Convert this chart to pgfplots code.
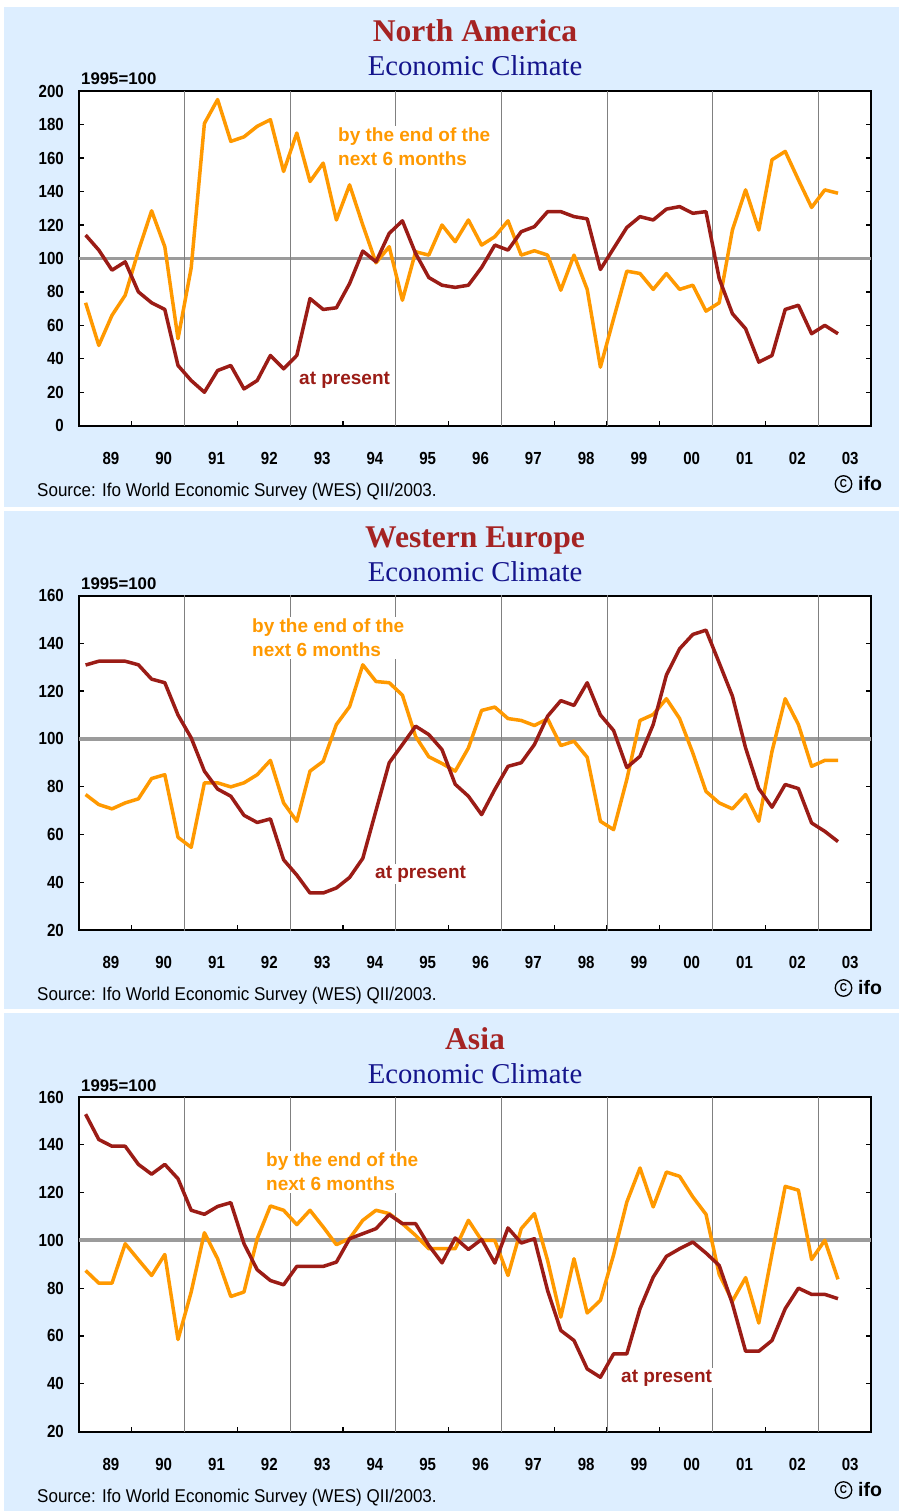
\documentclass[border=0pt]{standalone}
\usepackage{pgfplots}
\pgfplotsset{compat=1.18}
\usepackage{pgfplotstable}
\usepackage{fontspec}
\setmainfont{Liberation Serif}
\setsansfont{Liberation Sans}
\newfontfamily\narrowsans[FakeStretch=0.86]{Liberation Sans}
\newfontfamily\srcsans[FakeStretch=0.92]{Liberation Sans}
\definecolor{bgblue}{RGB}{221,238,255}
\definecolor{curred}{RGB}{155,28,22}
\definecolor{exporange}{RGB}{255,153,0}
\definecolor{titlered}{RGB}{165,35,35}
\definecolor{titleblue}{RGB}{20,20,140}
\definecolor{refgray}{RGB}{155,155,155}
\definecolor{gridgray}{RGB}{128,128,128}

\pgfplotstableread{
i cur exp
0 114 73.5
1 105 48
2 93 66
3 98 78
4 80 104.6
5 73.5 128.5
6 69.5 107
7 36 52
8 27 94.4
9 20 180.7
10 33 195
11 36 170
12 22 172.7
13 27 179
14 42 183
15 34 152
16 42 175
17 76 146
18 69.5 157
19 70.5 123
20 85 144
21 104.4 120
22 98 97.4
23 115 107
24 122.5 75
25 103 104
26 88.6 102
27 84 120
28 82.7 110
29 84 123
30 94.6 108
31 108 113
32 105 122.5
33 116 102
34 119 104.6
35 128 102
36 128 81
37 125 102
38 123.7 81.5
39 93.4 35
40 106 64
41 118.5 92.4
42 125 91
43 123 81.5
44 129.5 91
45 131 81.5
46 127 84
47 128 68.5
48 88 73.5
49 67 117
50 58 141
51 38 117
52 42 159
53 69.5 164
54 72 147
55 55 130.5
56 60 141
57 55 139
}\tableNA

\pgfplotstableread{
i cur exp
0 130.9 76.7
1 132.5 72.5
2 132.5 70.7
3 132.5 73.2
4 131 74.9
5 125 83.4
6 123.5 85
7 110 58.8
8 100.4 54.6
9 86.5 81.6
10 79 81.6
11 76 79.9
12 68 81.6
13 65 85
14 66.5 91
15 49.4 73.2
16 43 65.5
17 35.5 86.5
18 35.5 90.6
19 37.6 106
20 42 113.5
21 50 131
22 70 124
23 90 123.5
24 97.6 118.3
25 105.3 101
26 101.8 92.5
27 95.5 89.7
28 81 86.5
29 76 96.2
30 68.3 111.9
31 78.8 113.3
32 88.5 108.5
33 90 107.7
34 97.6 105.6
35 109.5 108.4
36 116 97.2
37 114 99
38 123.5 92.3
39 110 65.5
40 103.5 62
41 88 83
42 92.7 107.7
43 106 110.2
44 126.7 116.8
45 137.7 108.5
46 143.7 94.1
47 145.5 78
48 131.8 73.2
49 117.9 70.7
50 96.2 76.7
51 79.2 65.5
52 71.4 94.8
53 80.9 116.8
54 79.2 106
55 64.8 88.5
56 61.3 91
57 57 91
}\tableWE

\pgfplotstableread{
i cur exp
0 152.8 87.4
1 142.2 82.1
2 139.4 82.1
3 139.4 98.6
4 131.8 91.9
5 127.7 85.3
6 131.8 94.1
7 125.8 58.5
8 112.6 78.4
9 110.9 103.2
10 114.2 92.3
11 115.8 76.5
12 98.6 78.4
13 87.7 100.7
14 83.2 114.4
15 81.4 112.6
16 89.1 106.6
17 89.1 112.6
18 89.1 105.6
19 90.9 98.2
20 100.7 100.8
21 102.8 108.4
22 104.9 112.6
23 110.8 111.2
24 107 107
25 107 102.1
26 97.9 96.5
27 90.6 96.5
28 101 96.5
29 96.2 108.4
30 100.4 100
31 90.5 100
32 105.2 85.3
33 98.9 104.9
34 100.7 111.2
35 79 91.6
36 62.3 67.9
37 58.1 92.3
38 46.2 69.6
39 42.7 74.9
40 52.5 94
41 52.5 116
42 71.4 130.3
43 84.6 114
44 93.3 128.6
45 96.5 126.8
46 99.3 118.2
47 94.7 110.9
48 89.5 85.8
49 73.5 74.6
50 53.6 84.4
51 53.6 65.4
52 58.1 94.4
53 71.4 122.6
54 80 121
55 77.4 92
56 77.4 100
57 75.6 83.7
}\tableAS

\pgfplotsset{
  wes/.style={
    scale only axis, width=792pt, height=334.5pt,
    xmin=-0.5, xmax=59.5,
    axis background/.style={fill=white},
    axis line style={black, line width=2pt},
    tick align=inside,
    xtick pos=bottom, ytick pos=both, yticklabel pos=left,
    xtick={1.92,5.92,9.92,13.92,17.92,21.92,25.92,29.92,33.92,37.92,41.92,45.92,49.92,53.92,57.92},
    xticklabels={89,90,91,92,93,94,95,96,97,98,99,00,01,02,03},
    major x tick style={draw=none},
    minor xtick={3.5,7.5,11.5,15.5,19.5,23.5,27.5,31.5,35.5,39.5,43.5,47.5,51.5,55.5},
    minor x tick style={black, line width=1.2pt},
    minor tick length=5pt,
    major tick length=5pt,
    y tick style={black, line width=1.2pt},
    /pgf/number format/assume math mode=true,
    tick label style={font=\narrowsans\bfseries\fontsize{17.5}{20}\selectfont},
    x tick label style={anchor=base, yshift=-38.5pt, inner sep=0pt},
    y tick label style={anchor=east, inner sep=0pt, xshift=-15pt},
    clip=true,
  },
  curline/.style={curred, line width=3.5pt, line join=round},
  expline/.style={exporange, line width=3.5pt, line join=round},
}

\newcommand{\gridlines}{%
  \addplot[refgray, line width=3.8pt, forget plot] coordinates {(-0.5,100) (59.5,100)};
  \pgfplotsinvokeforeach{7.5,15.5,23.5,31.5,39.5,47.5,55.5}{%
    \draw[gridgray, line width=0.8pt] (axis cs:##1,-50) -- (axis cs:##1,300);}%
}

\begin{document}
\begin{tikzpicture}
\begin{scope}[x=1pt,y=-1pt]
  \fill[white] (0,0) rectangle (903,1511);
  \useasboundingbox (0,0) rectangle (903,1511);
  \fill[bgblue] (4,7) rectangle (899,507);
  \fill[bgblue] (4,511) rectangle (899,1009);
  \fill[bgblue] (4,1013) rectangle (899,1511);
\end{scope}

% ---------- North America ----------
\begin{axis}[wes, at={(79pt,-425.7pt)}, anchor=south west,
  ymin=0, ymax=200, ytick={0,20,...,200}]
  \gridlines
  \addplot[expline] table[x=i,y=exp]{\tableNA};
  \addplot[curline] table[x=i,y=cur]{\tableNA};
\end{axis}

% ---------- Western Europe ----------
\begin{axis}[wes, at={(79pt,-930pt)}, anchor=south west,
  ymin=20, ymax=160, ytick={20,40,...,160}]
  \gridlines
  \addplot[expline] table[x=i,y=exp]{\tableWE};
  \addplot[curline] table[x=i,y=cur]{\tableWE};
\end{axis}

% ---------- Asia ----------
\begin{axis}[wes, at={(79pt,-1431.5pt)}, anchor=south west,
  ymin=20, ymax=160, ytick={20,40,...,160}]
  \gridlines
  \addplot[expline] table[x=i,y=exp]{\tableAS};
  \addplot[curline] table[x=i,y=cur]{\tableAS};
\end{axis}

\begin{scope}[x=1pt,y=-1pt]
  \def\titA#1#2{%
    \node[font=\rmfamily\bfseries\fontsize{31.6}{34}\selectfont, text=titlered, anchor=base] at (475,#2) {#1};}
  \def\titB#1{%
    \node[font=\rmfamily\fontsize{28.7}{32}\selectfont, text=titleblue, anchor=base] at (475,#1) {Economic Climate};}
  \titA{North America}{42}
  \titB{76}
  \titA{Western Europe}{547}
  \titB{581}
  \titA{Asia}{1049}
  \titB{1083}
  \foreach \yy in {79,584,1086}{
    \node[font=\sffamily\bfseries\fontsize{16.8}{18}\selectfont, anchor=west, inner sep=0pt] at (81,\yy) {1995=100};
  }
  \foreach \yy in {492,996,1498}{
    \node[font=\srcsans\fontsize{18.5}{20}\selectfont, anchor=west, inner sep=0pt] at (37,\yy) {Source: Ifo World Economic Survey (WES) QII/2003.};
  }
  \foreach \yy in {484,988,1490}{
    \node[circle, draw=black, line width=1.3pt, minimum size=16.5pt, inner sep=0pt,
          font=\narrowsans\bfseries\fontsize{11.5}{12}\selectfont] at (843.5,\yy) {C};
    \node[font=\sffamily\bfseries\fontsize{19.5}{20}\selectfont, anchor=west, inner sep=0pt] at (858,\yy) {ifo};
  }
  % annotations
  \tikzset{ann/.style={font=\sffamily\bfseries\fontsize{19}{24}\selectfont, fill=white, inner sep=2pt}}
  \node[ann, text=exporange, align=left, anchor=north west] at (336,126) {by the end of the\\next 6 months};
  \node[ann, text=curred, anchor=west] at (297,380) {at present};
  \node[ann, text=exporange, align=left, anchor=north west] at (250,617) {by the end of the\\next 6 months};
  \node[ann, text=curred, anchor=west] at (373,874) {at present};
  \node[ann, text=exporange, align=left, anchor=north west] at (264,1151) {by the end of the\\next 6 months};
  \node[ann, text=curred, anchor=west] at (619,1378) {at present};
\end{scope}
\end{tikzpicture}
\end{document}
